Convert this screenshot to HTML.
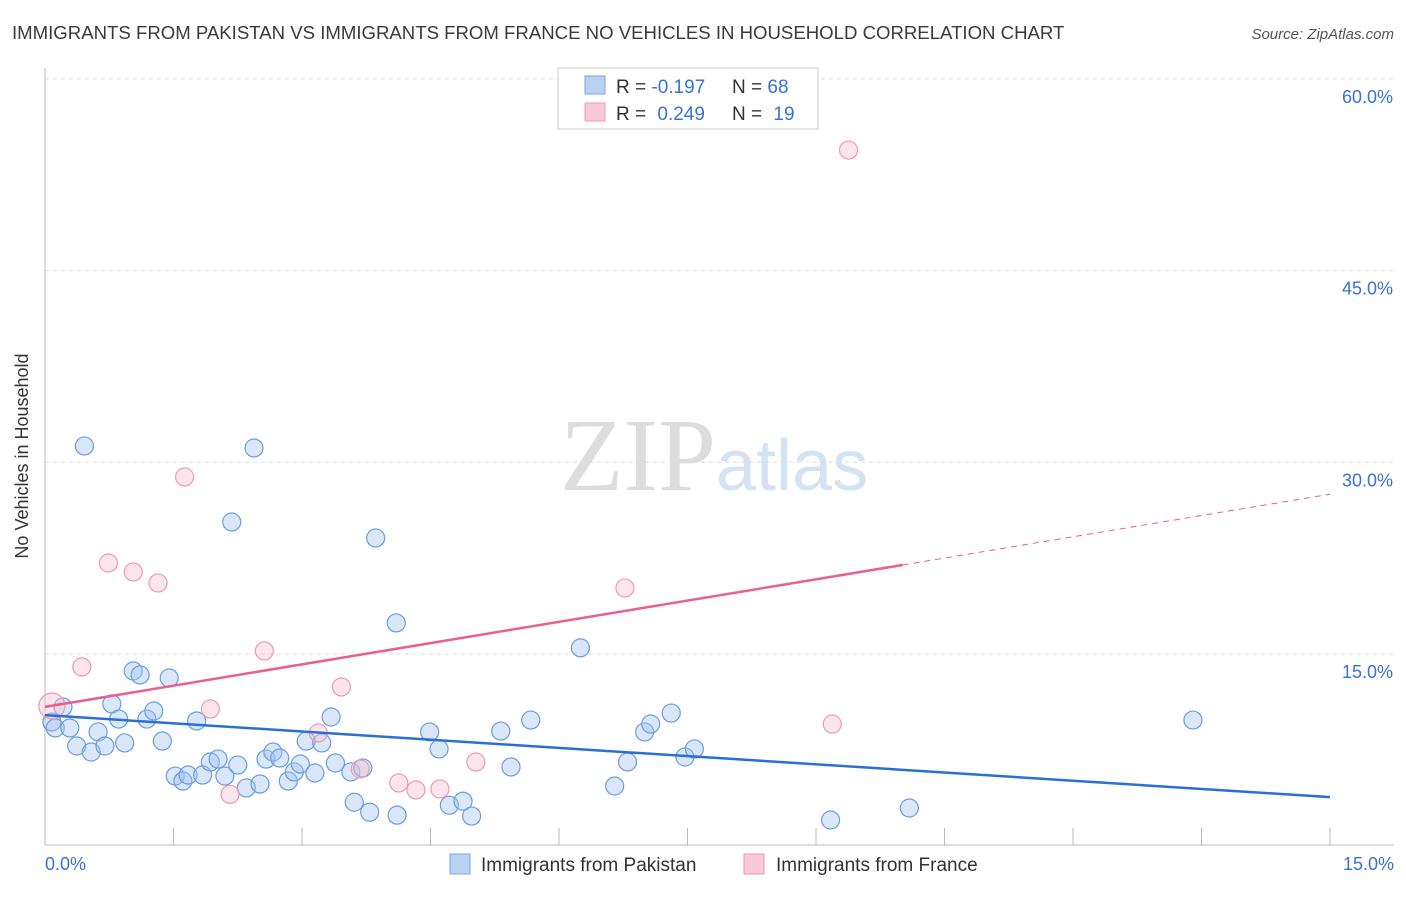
<!DOCTYPE html>
<html><head><meta charset="utf-8"><style>
body{margin:0;background:#fff;font-family:"Liberation Sans",sans-serif;}
</style></head><body>
<svg width="1406" height="892" viewBox="0 0 1406 892" xmlns="http://www.w3.org/2000/svg">
<text x="12" y="39" font-size="18.6" fill="#3a3a3a">IMMIGRANTS FROM PAKISTAN VS IMMIGRANTS FROM FRANCE NO VEHICLES IN HOUSEHOLD CORRELATION CHART</text>
<text x="1394" y="39" font-size="15" fill="#555" font-style="italic" text-anchor="end">Source: ZipAtlas.com</text>
<text x="716" y="490" font-size="104" fill="#ddd" text-anchor="end" font-family="Liberation Serif">ZIP</text>
<text x="716" y="490" font-size="72" fill="#d4e2f4">atlas</text>
<g id="grid"></g>
<g id="axes"></g>
<g id="marks"></g>
<text x="28" y="456" font-size="18" fill="#333" text-anchor="middle" transform="rotate(-90 28 456)">No Vehicles in Household</text>
<g>
<rect x="558" y="68" width="260" height="61" fill="#fff" stroke="#ccc"/>
<rect x="585" y="76" width="20" height="18" fill="#b8d2f4" stroke="#7aa6e0"/>
<rect x="585" y="103" width="20" height="18" fill="#f9c8d6" stroke="#ec9ab3"/>
<text x="616" y="93" font-size="19" fill="#333">R = <tspan fill="#3a72d4">-0.197</tspan><tspan x="732">N = </tspan><tspan fill="#3a72d4">68</tspan></text>
<text x="616" y="120" font-size="19" fill="#333">R = <tspan fill="#3a72d4" dx="6">0.249</tspan><tspan x="732">N = </tspan><tspan fill="#3a72d4" dx="6">19</tspan></text>
</g>
<g>
<rect x="450" y="854" width="20" height="20" fill="#b8d2f4" stroke="#7aa6e0"/>
<text x="481" y="871" font-size="19" fill="#333">Immigrants from Pakistan</text>
<rect x="744" y="854" width="20" height="20" fill="#f9c8d6" stroke="#ec9ab3"/>
<text x="776" y="871" font-size="19" fill="#333">Immigrants from France</text>
</g>
</svg>
<script>
const xTicks=[0,1.5,3,4.5,6,7.5,9,10.5,12,13.5,15];
const yTicks=[15,30,45,60];
const yTickLabels=["15.0%","30.0%","45.0%","60.0%"];
const pakX=[0.08,0.12,0.21,0.29,0.37,0.46,0.54,0.62,0.70,0.78,0.86,0.93,1.03,1.11,1.19,1.27,1.37,1.45,1.52,1.61,1.67,1.77,1.84,1.93,2.02,2.10,2.18,2.25,2.35,2.44,2.51,2.58,2.66,2.74,2.84,2.91,2.98,3.05,3.15,3.23,3.34,3.39,3.57,3.61,3.71,3.79,3.86,4.10,4.11,4.49,4.60,4.72,4.88,4.98,5.32,5.44,5.67,6.25,6.65,6.80,7.00,7.07,7.31,7.47,7.58,9.17,10.09,13.40];
const pakY=[9.68,9.21,10.85,9.21,7.80,31.28,7.33,8.90,7.80,11.09,9.91,8.04,13.67,13.36,9.91,10.54,8.19,13.12,5.45,5.06,5.53,9.76,5.53,6.55,6.78,5.45,25.33,6.31,4.52,31.12,4.83,6.78,7.33,6.86,5.06,5.77,6.39,8.19,5.69,8.04,10.07,6.47,5.77,3.40,6.08,2.62,24.08,17.43,2.39,8.90,7.57,3.17,3.48,2.32,8.97,6.16,9.83,15.48,4.67,6.55,8.90,9.52,10.38,6.94,7.57,2.01,2.95,9.83];
const fraX=[0.08,0.43,0.74,1.03,1.32,1.63,1.93,2.16,2.56,3.19,3.46,3.68,4.13,4.33,4.61,5.03,6.77,9.19,9.38];
const fraY=[10.93,13.99,22.12,21.42,20.56,28.85,10.70,4.02,15.24,8.82,12.42,6.00,4.91,4.36,4.44,6.55,20.17,9.52,54.43];
const pakTrend=[10.22,3.80];
const fraTrend=[10.86,27.5];
const fraSolidEnd=10.01;

const NS="http://www.w3.org/2000/svg";
const X=v=>45+v/15*1285;
const Y=v=>845.7-v/15*191.7;
function mk(tag,attrs,parent){const e=document.createElementNS(NS,tag);for(const k in attrs)e.setAttribute(k,attrs[k]);document.getElementById(parent).appendChild(e);return e;}
const grid='grid',axes='axes',marks='marks';
yTicks.forEach((t,i)=>{
  const l=mk('line',{x1:45,x2:1394,y1:Y(t),y2:Y(t),stroke:'#ddd','stroke-dasharray':'4,4'},grid);
  
  
  const tx=mk('text',{x:1393,y:Y(t)+24,'font-size':18,fill:'#3a72d4','text-anchor':'end'},axes);
  tx.textContent=yTickLabels[i];
  
  
});
const ax=mk('line',{x1:45,x2:45,y1:68,y2:845,stroke:'#bbb'},axes);


const bx=mk('line',{x1:45,x2:1394,y1:845,y2:845,stroke:'#bbb'},axes);


xTicks.forEach(t=>{
  const l=mk('line',{x1:X(t),x2:X(t),y1:828,y2:845,stroke:'#bbb'},axes);
  
  
});
const x0=mk('text',{x:45,y:870,'font-size':18,fill:'#3a72d4'},axes);x0.textContent='0.0%';


const x1=mk('text',{x:1394,y:870,'font-size':18,fill:'#3a72d4','text-anchor':'end'},axes);x1.textContent='15.0%';



pakX.forEach((v,i)=>{
  const c=mk('circle',{cx:X(v),cy:Y(pakY[i]),r:9,fill:'rgba(160,196,240,0.4)',stroke:'#6b9de0','stroke-width':1.2},marks);
  
  
});
fraX.forEach((v,i)=>{
  const c=mk('circle',{cx:X(v),cy:Y(fraY[i]),r:i===0?13:9,fill:'rgba(248,190,208,0.4)',stroke:'#ee9ab4','stroke-width':1.2},marks);
  
  
});
const pl=mk('line',{x1:X(0),y1:Y(pakTrend[0]),x2:X(15),y2:Y(pakTrend[1]),stroke:'#2a6fd6','stroke-width':2.5},marks);


const fy=v=>fraTrend[0]+(fraTrend[1]-fraTrend[0])*v/15;
const fl=mk('line',{x1:X(0),y1:Y(fraTrend[0]),x2:X(fraSolidEnd),y2:Y(fy(fraSolidEnd)),stroke:'#e8608c','stroke-width':2.5},marks);


const fd=mk('line',{x1:X(fraSolidEnd),y1:Y(fy(fraSolidEnd)),x2:X(15),y2:Y(fraTrend[1]),stroke:'#e8608c','stroke-width':1,'stroke-dasharray':'6,5'},marks);


</script>
</body></html>
